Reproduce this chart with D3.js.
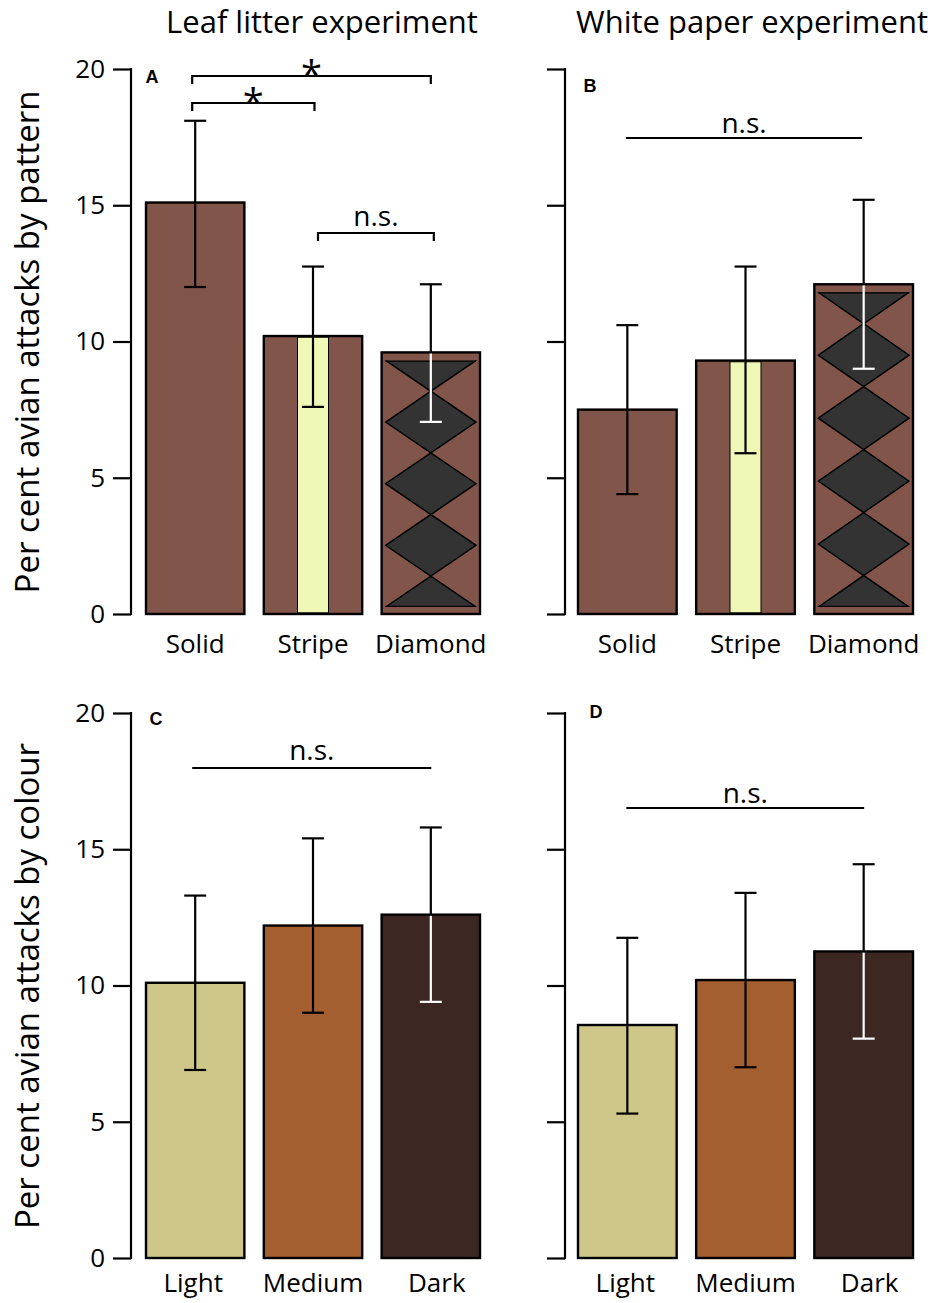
<!DOCTYPE html>
<html>
<head>
<meta charset="utf-8">
<script src="https://cdnjs.cloudflare.com/ajax/libs/d3/7.8.5/d3.min.js"></script>
<style>
body { margin: 0; background: #fff; }
text { font-family: "Open Sans", "Noto Sans", sans-serif; }
</style>
</head>
<body>
<svg id="chart" width="938" height="1303"></svg>
<script>
(function () {
// ---- data ----
var patternCats = ['Solid', 'Stripe', 'Diamond']
var colourCats = ['Light', 'Medium', 'Dark']

var leafPattern = [15.1, 10.2, 9.6]
var leafPatternLo = [12.0, 7.6, 7.05]
var leafPatternHi = [18.1, 12.75, 12.1]

var paperPattern = [7.5, 9.3, 12.1]
var paperPatternLo = [4.4, 5.9, 9.0]
var paperPatternHi = [10.6, 12.75, 15.2]

var leafColour = [10.1, 12.2, 12.6]
var leafColourLo = [6.9, 9.0, 9.4]
var leafColourHi = [13.3, 15.4, 15.8]

var paperColour = [8.55, 10.2, 11.25]
var paperColourLo = [5.3, 7.0, 8.05]
var paperColourHi = [11.75, 13.4, 14.45]

var yTicks = [0, 5, 10, 15, 20]

var brown = '#82554a', stripeCol = '#eff8b6', diamondCol = '#333333'
var colourFill = {'Light': '#cfc68a', 'Medium': '#a35f30', 'Dark': '#3c2722'}

var svg = d3.select('#chart')

var panels = [
    {id: 'A', left: 131, x0: 146, x1: 480, top: 69, bottom: 614, cats: patternCats,
     v: leafPattern, lo: leafPatternLo, hi: leafPatternHi, labels: true, lx: 152, ly: 83, cy: 39},
    {id: 'B', left: 565, x0: 578, x1: 913, top: 69, bottom: 614, cats: patternCats,
     v: paperPattern, lo: paperPatternLo, hi: paperPatternHi, labels: false, lx: 590, ly: 92, cy: 39},
    {id: 'C', left: 131, x0: 146, x1: 480, top: 713, bottom: 1258, cats: colourCats,
     v: leafColour, lo: leafColourLo, hi: leafColourHi, labels: true, lx: 156, ly: 725, cy: 34},
    {id: 'D', left: 565, x0: 578, x1: 913, top: 713, bottom: 1258, cats: colourCats,
     v: paperColour, lo: paperColourLo, hi: paperColourHi, labels: false, lx: 596, ly: 718, cy: 34}
]

var defs = svg.append('defs')

panels.forEach(function (p, pi) {
    var y = d3.scaleLinear().domain([0, 20]).range([p.bottom, p.top])
    var x = d3.scaleBand().domain(p.cats).range([p.x0, p.x1]).paddingInner(0.165).paddingOuter(0)
    p.x = x; p.y = y
    var g = svg.append('g')

    // y axis
    var axis = d3.axisLeft(y).tickValues(yTicks).tickSize(18).tickPadding(8)
        .tickFormat(p.labels ? d3.format('d') : '')
    var ag = g.append('g').attr('transform', 'translate(' + p.left + ',0)').call(axis)
    ag.select('.domain').remove()
    ag.append('line').attr('x1', 0).attr('x2', 0).attr('y1', y(0) + 1.1).attr('y2', y(20) - 1.1)
        .attr('stroke', '#000').attr('stroke-width', 2.2)
    ag.selectAll('.tick line').attr('stroke', '#000').attr('stroke-width', 2.2)
    ag.selectAll('.tick text').attr('fill', '#000').style('font-size', '26px')
        .style('font-family', '"Open Sans", sans-serif')

    // bars
    p.cats.forEach(function (c, i) {
        var bx = x(c), bw = x.bandwidth(), by = y(p.v[i]), bh = y(0) - y(p.v[i])
        var fill = p.cats === patternCats ? brown : colourFill[c]
        g.append('rect').attr('x', bx).attr('y', by).attr('width', bw).attr('height', bh)
            .attr('fill', fill).attr('stroke', '#000').attr('stroke-width', 2.4)
        if (c === 'Stripe') {
            g.append('rect').attr('x', bx + bw / 2 - 15.5).attr('y', by + 1.2)
                .attr('width', 31).attr('height', bh - 2.4)
                .attr('fill', stripeCol).attr('stroke', '#000').attr('stroke-width', 1)
        }
        if (c === 'Diamond') {
            var ix = bx + 4, iw = bw - 8, iy = by + 8, ih = bh - 15
            var n = Math.max(1, Math.round(ih / 62)), h = ih / n
            var cid = 'clip' + pi
            defs.append('clipPath').attr('id', cid).append('rect')
                .attr('x', ix - 1).attr('y', iy).attr('width', iw + 2).attr('height', ih)
            var dg = g.append('g').attr('clip-path', 'url(#' + cid + ')')
            d3.range(n + 1).forEach(function (k) {
                var cy = iy + k * h
                dg.append('path')
                    .attr('d', 'M' + ix + ',' + cy + 'L' + (ix + iw / 2) + ',' + (cy - h / 2) +
                        'L' + (ix + iw) + ',' + cy + 'L' + (ix + iw / 2) + ',' + (cy + h / 2) + 'Z')
                    .attr('fill', diamondCol).attr('stroke', '#000').attr('stroke-width', 1.5)
            })
            dg.append('line').attr('x1', ix).attr('x2', ix + iw).attr('y1', iy + 0.5).attr('y2', iy + 0.5)
                .attr('stroke', '#000').attr('stroke-width', 1.5)
            dg.append('line').attr('x1', ix).attr('x2', ix + iw).attr('y1', iy + ih - 0.5).attr('y2', iy + ih - 0.5)
                .attr('stroke', '#000').attr('stroke-width', 1.5)
        }
    })

    // error bars
    p.cats.forEach(function (c, i) {
        var cx = x(c) + x.bandwidth() / 2
        var white = (c === 'Diamond' || c === 'Dark')
        var top = y(p.hi[i]), bot = y(p.lo[i]), barTop = y(p.v[i])
        var lowCol = white ? '#fff' : '#000'
        g.append('line').attr('x1', cx).attr('x2', cx).attr('y1', top).attr('y2', barTop)
            .attr('stroke', '#000').attr('stroke-width', 2.2)
        g.append('line').attr('x1', cx - 11).attr('x2', cx + 11).attr('y1', top).attr('y2', top)
            .attr('stroke', '#000').attr('stroke-width', 2.2)
        g.append('line').attr('x1', cx).attr('x2', cx).attr('y1', barTop + 1.2).attr('y2', bot)
            .attr('stroke', lowCol).attr('stroke-width', 2.2)
        g.append('line').attr('x1', cx - 11).attr('x2', cx + 11).attr('y1', bot).attr('y2', bot)
            .attr('stroke', lowCol).attr('stroke-width', 2.2)
    })

    // category labels
    p.cats.forEach(function (c) {
        var shift = c === 'Dark' ? 6 : c === 'Light' ? -2 : 0
        g.append('text').attr('x', x(c) + x.bandwidth() / 2 + shift).attr('y', p.bottom + p.cy)
            .attr('text-anchor', 'middle').style('font-size', '26px').text(c)
    })

    // panel letter
    g.append('text').attr('x', p.lx).attr('y', p.ly)
        .attr('text-anchor', 'middle').style('font-size', '18px').style('font-weight', 'bold')
        .style('font-family', '"Liberation Sans", Arial, sans-serif').text(p.id)
})

// significance brackets
function bracket(p, a, da, b, db, yy, ticks, label, labelY) {
    var x1 = p.x(a) + p.x.bandwidth() / 2 + da, x2 = p.x(b) + p.x.bandwidth() / 2 + db
    var g = svg.append('g').attr('stroke', '#000').attr('stroke-width', 2.2).attr('fill', 'none')
    var d = ticks ? 'M' + x1 + ',' + (yy + 8) + 'V' + yy + 'H' + x2 + 'V' + (yy + 8)
                  : 'M' + x1 + ',' + yy + 'H' + x2
    g.append('path').attr('d', d)
    svg.append('text').attr('x', (x1 + x2) / 2).attr('y', labelY)
        .attr('text-anchor', 'middle')
        .style('font-size', label === '*' ? '38px' : '28px').text(label)
}
bracket(panels[0], 'Solid', -3, 'Diamond', 0, 76, true, '*', 88)
bracket(panels[0], 'Solid', -3, 'Stripe', 1.5, 103, true, '*', 116)
bracket(panels[0], 'Stripe', 5, 'Diamond', 3, 233, true, 'n.s.', 226)
bracket(panels[1], 'Solid', -1.5, 'Diamond', -1.5, 138, false, 'n.s.', 133)
bracket(panels[2], 'Light', -3, 'Dark', 0.5, 768, false, 'n.s.', 760)
bracket(panels[3], 'Light', -1, 'Dark', 0.5, 808, false, 'n.s.', 803)

// titles
svg.append('text').attr('x', 322).attr('y', 33).attr('text-anchor', 'middle')
    .style('font-size', '31px').text('Leaf litter experiment')
svg.append('text').attr('x', 752).attr('y', 33).attr('text-anchor', 'middle')
    .style('font-size', '31px').text('White paper experiment')

// y axis titles
svg.append('text').attr('transform', 'translate(39,342) rotate(-90)').attr('text-anchor', 'middle')
    .style('font-size', '33px').text('Per cent avian attacks by pattern')
svg.append('text').attr('transform', 'translate(39,986) rotate(-90)').attr('text-anchor', 'middle')
    .style('font-size', '33px').text('Per cent avian attacks by colour')
})();
</script>
</body>
</html>
